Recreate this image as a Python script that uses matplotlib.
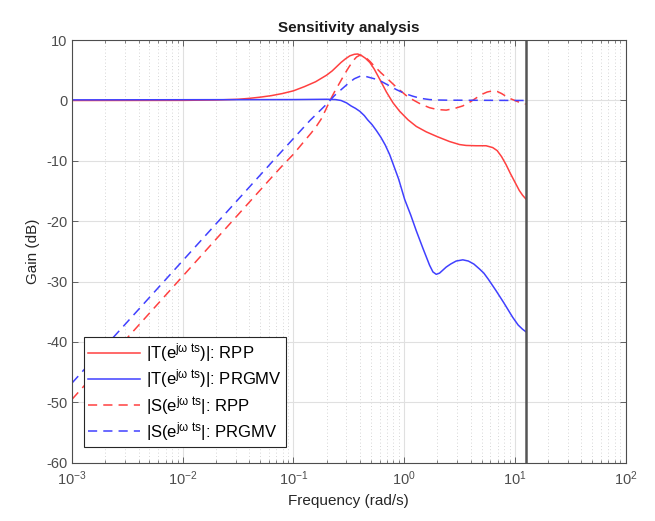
import numpy as np
import matplotlib
matplotlib.use("Agg")
import matplotlib.pyplot as plt
from matplotlib.ticker import LogLocator, NullFormatter

plt.rcParams["font.family"] = ["Liberation Sans", "DejaVu Sans"]
plt.rcParams["mathtext.fontset"] = "custom"
plt.rcParams["mathtext.rm"] = "Liberation Sans"
plt.rcParams["mathtext.it"] = "Liberation Sans"
plt.rcParams["mathtext.bf"] = "Liberation Sans:bold"
plt.rcParams["axes.unicode_minus"] = False

# log10 of frequency (rad/s) and gain (dB)
t_rpp_logw = [-3, -2, -1.7, -1.5, -1.4, -1.3, -1.2, -1.1, -1.0, -0.9, -0.8, -0.7, -0.65,
              -0.61, -0.57, -0.53, -0.49, -0.45, -0.42, -0.39, -0.35, -0.31, -0.27,
              -0.22, -0.16, -0.1, -0.04, 0.035, 0.11, 0.2, 0.3, 0.41, 0.5, 0.56, 0.65,
              0.74, 0.8, 0.84, 0.88, 0.92, 0.96, 1.0, 1.04, 1.07, 1.099]
t_rpp_db = [0.0, 0.02, 0.08, 0.2, 0.35, 0.55, 0.8, 1.15, 1.6, 2.3, 3.1, 4.2, 4.9,
            5.6, 6.3, 6.9, 7.4, 7.65, 7.7, 7.5, 7.0, 6.3, 5.2,
            3.5, 1.4, -0.4, -1.8, -3.2, -4.3, -5.2, -6.0, -6.8, -7.3, -7.45, -7.5,
            -7.5, -7.8, -8.3, -9.3, -10.6, -12.1, -13.5, -14.9, -15.7, -16.3]

t_prg_logw = [-3, -1.0, -0.7, -0.62, -0.57, -0.52, -0.48, -0.44, -0.4, -0.36, -0.33,
              -0.29, -0.25, -0.21, -0.17, -0.13, -0.09, -0.05, 0.005, 0.06, 0.11, 0.17,
              0.23, 0.26, 0.29, 0.32, 0.35, 0.38, 0.42, 0.47, 0.53, 0.58, 0.63, 0.68,
              0.72, 0.76, 0.83, 0.9, 0.98, 1.03, 1.07, 1.099]
t_prg_db = [0.1, 0.15, 0.2, 0.15, 0.0, -0.4, -0.9, -1.3, -1.8, -2.5, -3.2,
            -4.0, -5.0, -6.1, -7.4, -9.0, -11.0, -13.0, -16.4, -19.0, -21.6, -24.5,
            -27.3, -28.4, -28.8, -28.6, -28.1, -27.6, -27.1, -26.6, -26.4, -26.6, -27.1, -27.9,
            -28.6, -29.6, -31.5, -33.5, -35.9, -37.2, -37.9, -38.3]

s_rpp_logw = [-3, -1.2, -1.1, -1.0, -0.9, -0.84, -0.79, -0.75, -0.71, -0.67, -0.63,
              -0.58, -0.54, -0.5, -0.46, -0.43, -0.4, -0.37, -0.34, -0.31, -0.28,
              -0.21, -0.145, -0.07, 0.02, 0.08, 0.15, 0.23, 0.3, 0.38, 0.46, 0.53,
              0.6, 0.65, 0.7, 0.75, 0.8, 0.84, 0.88, 0.92, 0.96, 1.0, 1.04, 1.07, 1.099]
s_rpp_db = [-49.5, -12.8, -10.8, -8.9, -6.7, -5.4, -4.2, -3.1, -1.6, 0.0, 1.4,
            3.0, 4.3, 5.5, 6.6, 7.2, 7.5, 7.4, 7.0, 6.5, 5.9,
            4.6, 3.5, 2.2, 0.8, 0.1, -0.6, -1.2, -1.5, -1.6, -1.3, -0.9,
            -0.2, 0.4, 1.0, 1.4, 1.6, 1.5, 1.15, 0.7, 0.3, 0.0, -0.3, -0.5, -0.6]

s_prg_logw = [-3, -1.184, -1.0, -0.85, -0.75, -0.7, -0.67, -0.63, -0.6, -0.55, -0.5,
              -0.45, -0.4, -0.36, -0.33, -0.29, -0.25, -0.2, -0.16, -0.11, -0.07,
              0.0, 0.08, 0.15, 0.23, 0.3, 0.4, 1.099]
s_prg_db = [-46.8, -10.0, -6.3, -3.3, -1.5, -0.6, 0.0, 0.8, 1.3, 2.1, 2.9,
            3.6, 4.0, 4.05, 3.9, 3.7, 3.5, 3.1, 2.7, 2.2, 1.8,
            1.2, 0.7, 0.35, 0.15, 0.08, 0.05, 0.0]

w_nyq = np.pi / 0.25

labels = [r"|T(e$^{\mathrm{j}\omega\ \mathrm{ts}}$)|: RPP",
          r"|T(e$^{\mathrm{j}\omega\ \mathrm{ts}}$)|: PRGMV",
          r"|S(e$^{\mathrm{j}\omega\ \mathrm{ts}}$|: RPP",
          r"|S(e$^{\mathrm{j}\omega\ \mathrm{ts}}$|: PRGMV"]

red = (1.0, 0.25, 0.25)
blue = (0.25, 0.25, 1.0)
gray = "#4d4d4d"

fig = plt.figure(figsize=(6.55, 5.21), dpi=100)
ax = fig.add_axes([0.110, 0.112, 0.845, 0.811])

ax.plot(10 ** np.array(t_rpp_logw), t_rpp_db, color=red, lw=1.1, label=labels[0])
ax.plot(10 ** np.array(t_prg_logw), t_prg_db, color=blue, lw=1.1, label=labels[1])
ax.plot(10 ** np.array(s_rpp_logw), s_rpp_db, color=red, lw=1.1, dashes=(6, 4), label=labels[2])
ax.plot(10 ** np.array(s_prg_logw), s_prg_db, color=blue, lw=1.1, dashes=(6, 4), label=labels[3])
ax.axvline(w_nyq, color="#555555", lw=1.8)

ax.set_xscale("log")
ax.set_xlim(1e-3, 1e2)
ax.set_ylim(-60, 10)
ax.set_yticks(np.arange(-60, 11, 10))
ax.xaxis.set_major_locator(LogLocator(base=10, numticks=10))
ax.xaxis.set_minor_locator(LogLocator(base=10, subs=np.arange(2, 10), numticks=20))
ax.xaxis.set_minor_formatter(NullFormatter())

ax.grid(True, which="major", color="#e0e0e0", lw=0.8)
ax.grid(True, which="minor", axis="x", color="#c8c8c8", lw=0.6, ls=(0, (1, 3)))
ax.set_axisbelow(True)

ax.tick_params(which="both", direction="in", top=True, right=True, colors=gray,
               labelsize=10.5)
ax.tick_params(which="major", length=4, width=0.6)
ax.tick_params(which="minor", length=2, width=0.5)
ax.tick_params(axis="x", pad=5)
for s in ax.spines.values():
    s.set_color(gray)
    s.set_linewidth(0.8)

ax.set_xlabel("Frequency (rad/s)", fontsize=11, color="#262626")
ax.set_ylabel("Gain (dB)", fontsize=11, color="#262626")
ax.set_title("Sensitivity analysis", fontsize=11, fontweight="bold", color="#1a1a1a")

leg = ax.legend(loc="lower left", bbox_to_anchor=(0.021, 0.037), borderaxespad=0,
                fontsize=12, fancybox=False, framealpha=1, edgecolor="#262626",
                handlelength=3.1, labelspacing=0.2, borderpad=0.25, handletextpad=0.4)
leg.get_frame().set_linewidth(0.8)

fig.savefig("out.png", dpi=100)
